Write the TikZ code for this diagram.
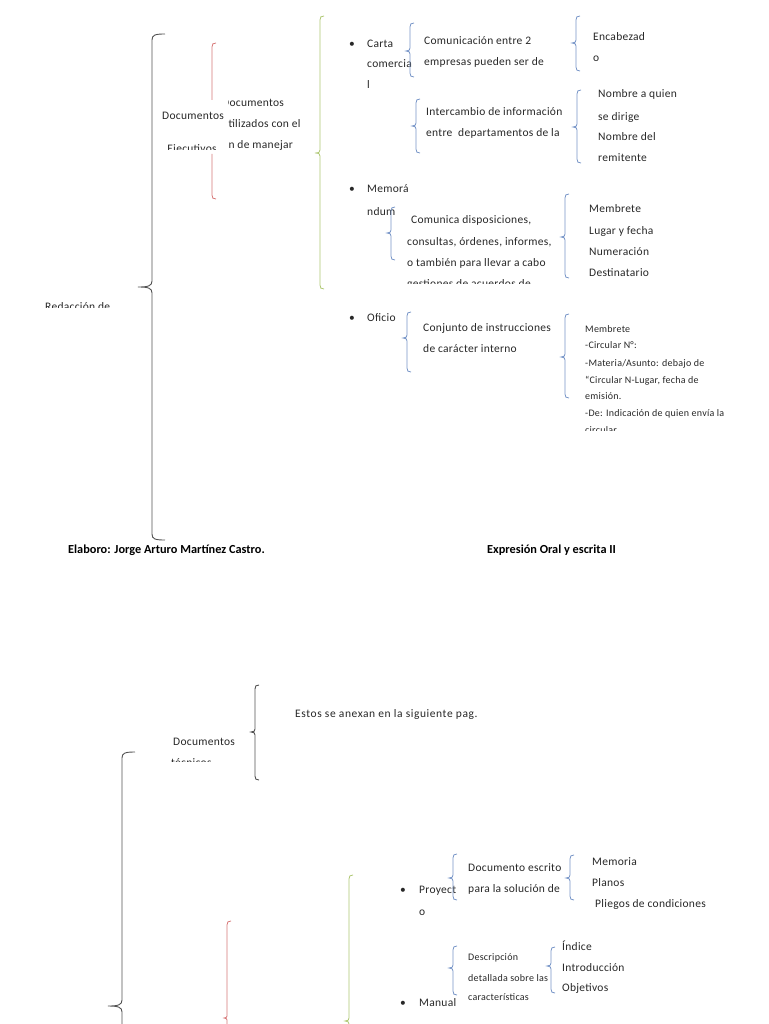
\documentclass[tikz,border=0pt]{standalone}
\usepackage{fontspec}
\setmainfont{Carlito}
\newfontfamily\spacedfont[LetterSpace=2.5]{Carlito}
\newfontfamily\widefont[LetterSpace=5]{Carlito}
\definecolor{blueC}{RGB}{120,150,200}
\definecolor{redC}{RGB}{215,120,120}
\definecolor{greenC}{RGB}{175,200,115}
\definecolor{inkC}{RGB}{40,40,40}
\tikzset{
  txt/.style={anchor=base west, inner sep=0pt, font=\spacedfont\fontsize{11.5}{13}\selectfont, text=inkC},
  txtc/.style={txt, anchor=base},
  smalltxt/.style={txt, font=\spacedfont\fontsize{10}{11}\selectfont},
  boldtxt/.style={txt, font=\bfseries\fontsize{12.3}{14}\selectfont, text=black},
  bluebr/.style={draw=blueC, line width=0.8pt},
  redbr/.style={draw=redC, line width=0.8pt},
  greenbr/.style={draw=greenC, line width=0.8pt},
  blackbr/.style={draw=inkC!80, line width=0.9pt},
}
% left bracket: style, x, top, mid, bottom
\newcommand\lbrk[5]{\draw[#1] ({#2+4},{-(#3)}) .. controls ({#2+1},{-(#3)}) and (#2,{-(#3)-1}) .. (#2,{-(#3)-4}) -- (#2,{-(#4)+3}) .. controls (#2,{-(#4)+1}) and ({#2-1},{-(#4)}) .. ({#2-4},{-(#4)}) .. controls ({#2-1},{-(#4)}) and (#2,{-(#4)-1}) .. (#2,{-(#4)-3}) -- (#2,{-(#5)+4}) .. controls (#2,{-(#5)+1}) and ({#2+1},{-(#5)}) .. ({#2+4},{-(#5)});}
% big curly brace: style, x, top, mid, bottom
\newcommand\bigbrc[5]{\draw[#1] ({#2+13},{-(#3)}) .. controls ({#2+3},{-(#3)}) and (#2,{-(#3)-1}) .. (#2,{-(#3)-6}) -- (#2,{-(#4)+6}) .. controls (#2,{-(#4)+1}) and ({#2-4},{-(#4)}) .. ({#2-14},{-(#4)}) .. controls ({#2-4},{-(#4)}) and (#2,{-(#4)-1}) .. (#2,{-(#4)-6}) -- (#2,{-(#5)+6}) .. controls (#2,{-(#5)+1}) and ({#2+3},{-(#5)}) .. ({#2+13},{-(#5)});}
\begin{document}
\begin{tikzpicture}[x=1pt,y=1pt]
\useasboundingbox[fill=white] (0,0) rectangle (768,-1024);

% ===== top part =====
\bigbrc{blackbr}{152}{34}{287}{540}
\begin{scope}
\clip (0,-250) rectangle (140,-307);
\node[txt] (redac) at (45,-310) {Redacción de};
\end{scope}

% red bracket (middle hidden by text)
\draw[redbr] (216,-43) .. controls (213,-43) and (212,-44) .. (212,-47) -- (212,-100);
\draw[redbr] (212,-154) -- (212,-195) .. controls (212,-198) and (213,-199) .. (216,-199);
\node[txt] (docE1) at (162,-120) {Documentos};
\begin{scope}
\clip (150,-125) rectangle (226,-150);
\node[txtc] (docE2) at (192,-153) {Ejecutivos};
\end{scope}
\begin{scope}
\clip (228,-90) rectangle (315,-160);
\node[txt] (util1) at (222,-107) {Documentos};
\node[txt] (util2) at (222,-128) {utilizados con el};
\node[txt] (util3) at (222,-149) {fin de manejar};
\end{scope}

% green bracket
\draw[greenbr] (324,-16) .. controls (321,-16) and (320,-17) .. (320,-20) -- (320,-150) .. controls (320,-152) and (319,-153) .. (315,-153) .. controls (319,-153) and (320,-154) .. (320,-156) -- (320,-285) .. controls (320,-288) and (321,-289) .. (324,-289);

% Carta comercial
\node[txt] (bul1) at (349,-48) {•};
\node[txt] (carta1) at (367,-48) {Carta};
\node[txt] (carta2) at (367,-68) {comercia};
\node[txt] (carta3) at (367,-89) {l};
\lbrk{bluebr}{410}{23}{51}{77}
\node[txt] (com1) at (424,-45) {Comunicación entre 2};
\node[txt] (com2) at (424,-66) {empresas pueden ser de};
\lbrk{bluebr}{576}{16}{43}{71}
\node[txt] (enc1) at (593,-41) {Encabezad};
\node[txt] (enc2) at (593,-62) {o};
\lbrk{bluebr}{416}{99}{126}{153}
\node[txt] (int1) at (426,-116) {Intercambio de información};
\node[txt] (int2) at (426,-137) {entre\ \ departamentos de la};
\lbrk{bluebr}{577}{90}{127}{163}
\node[txt] (nom1) at (598,-98) {Nombre a quien};
\node[txt] (nom2) at (598,-121) {se dirige};
\node[txt] (nom3) at (598,-141) {Nombre del};
\node[txt] (nom4) at (598,-162) {remitente};

% Memorandum
\node[txt] (bul2) at (349,-193) {•};
\node[txt] (mem1) at (367,-193) {Memorá};
\node[txt] (mem2) at (367,-216) {ndum};
\lbrk{bluebr}{391}{207}{233}{260}
\node[txt] (cd1) at (408,-224) {\ Comunica disposiciones,};
\node[txt] (cd2) at (407,-245) {consultas, órdenes, informes,};
\node[txt] (cd3) at (407,-266) {o también para llevar a cabo};
\begin{scope}
\clip (400,-270) rectangle (560,-283);
\node[txt] (cd4) at (407,-287) {gestiones de acuerdos de};
\end{scope}
\lbrk{bluebr}{565}{194}{237}{278}
\node[txt] (mb1) at (589,-213) {Membrete};
\node[txt] (mb2) at (589,-234) {Lugar y fecha};
\node[txt] (mb3) at (589,-255) {Numeración};
\node[txt] (mb4) at (589,-276) {Destinatario};

% Oficio
\node[txt] (bul3) at (349,-321) {•};
\node[txt] (ofi) at (367,-321) {Oficio};
\lbrk{bluebr}{407}{312}{338}{372}
\node[txt] (conj1) at (423,-331) {Conjunto de instrucciones};
\node[txt] (conj2) at (423,-352) {de carácter interno};
\lbrk{bluebr}{565}{314}{357}{398}
\node[smalltxt] (of1) at (585,-332) {Membrete};
\node[smalltxt] (of2) at (585,-348) {-Circular N°:};
\node[smalltxt] (of3) at (585,-366) {-Materia/Asunto: debajo de};
\node[smalltxt] (of4) at (585,-383) {“Circular N-Lugar, fecha de};
\node[smalltxt] (of5) at (585,-399) {emisión.};
\node[smalltxt] (of6) at (585,-416) {-De: Indicación de quien envía la};
\begin{scope}
\clip (580,-420) rectangle (768,-430);
\node[smalltxt] (of7) at (585,-433) {circular.};
\end{scope}

% footer
\node[boldtxt] (autor) at (68,-553) {Elaboro: Jorge Arturo Martínez Castro.};
\node[boldtxt] (materia) at (487,-553) {Expresión Oral y escrita II};

% ===== bottom part =====
\node[txt] (docT1) at (173,-745) {Documentos};
\begin{scope}
\clip (160,-752) rectangle (250,-761);
\node[txt] (docT2) at (171,-766) {técnicos};
\end{scope}
\lbrk{blackbr}{255}{685}{732}{780}
\node[txt, font=\widefont\fontsize{11.5}{13}\selectfont] (anexo) at (295,-717) {Estos se anexan en la siguiente pag.};

\bigbrc{blackbr}{122}{752}{1006}{1260}

% red and green brackets continuing below the page
\draw[redbr] (231,-921) .. controls (228,-921) and (227,-922) .. (227,-925) -- (227,-1016) .. controls (227,-1017) and (226,-1018) .. (224,-1018) .. controls (226,-1018) and (227,-1019) .. (227,-1020) -- (227,-1030);
\draw[greenbr] (353,-875) .. controls (350,-875) and (349,-876) .. (349,-879) -- (349,-1018) .. controls (349,-1020) and (348,-1021) .. (345,-1021) .. controls (348,-1021) and (349,-1022) .. (349,-1024) -- (349,-1030);

% Proyecto
\node[txt] (bul4) at (400,-893) {•};
\node[txt] (pro1) at (419,-893) {Proyect};
\node[txt] (pro2) at (419,-915) {o};
\lbrk{bluebr}{453}{854}{878}{900}
\node[txt] (des1) at (468,-871) {Documento escrito};
\node[txt] (des2) at (468,-892) {para la solución de};
\lbrk{bluebr}{570}{855}{878}{900}
\node[txt] (pl1) at (592,-865) {Memoria};
\node[txt] (pl2) at (592,-886) {Planos};
\node[txt] (pl3) at (595,-907) {Pliegos de condiciones};

% Manual
\node[txt] (bul5) at (400,-1006) {•};
\node[txt] (man) at (419,-1006) {Manual};
\lbrk{bluebr}{453}{946}{968}{995}
\node[smalltxt] (dd1) at (468,-960) {Descripción};
\node[smalltxt] (dd2) at (468,-981) {detallada sobre las};
\node[smalltxt] (dd3) at (468,-1000) {características};
\lbrk{bluebr}{551}{947}{966}{993}
\node[txt] (ix1) at (562,-950) {Índice};
\node[txt] (ix2) at (562,-971) {Introducción};
\node[txt] (ix3) at (562,-991) {Objetivos};
\end{tikzpicture}
\end{document}
